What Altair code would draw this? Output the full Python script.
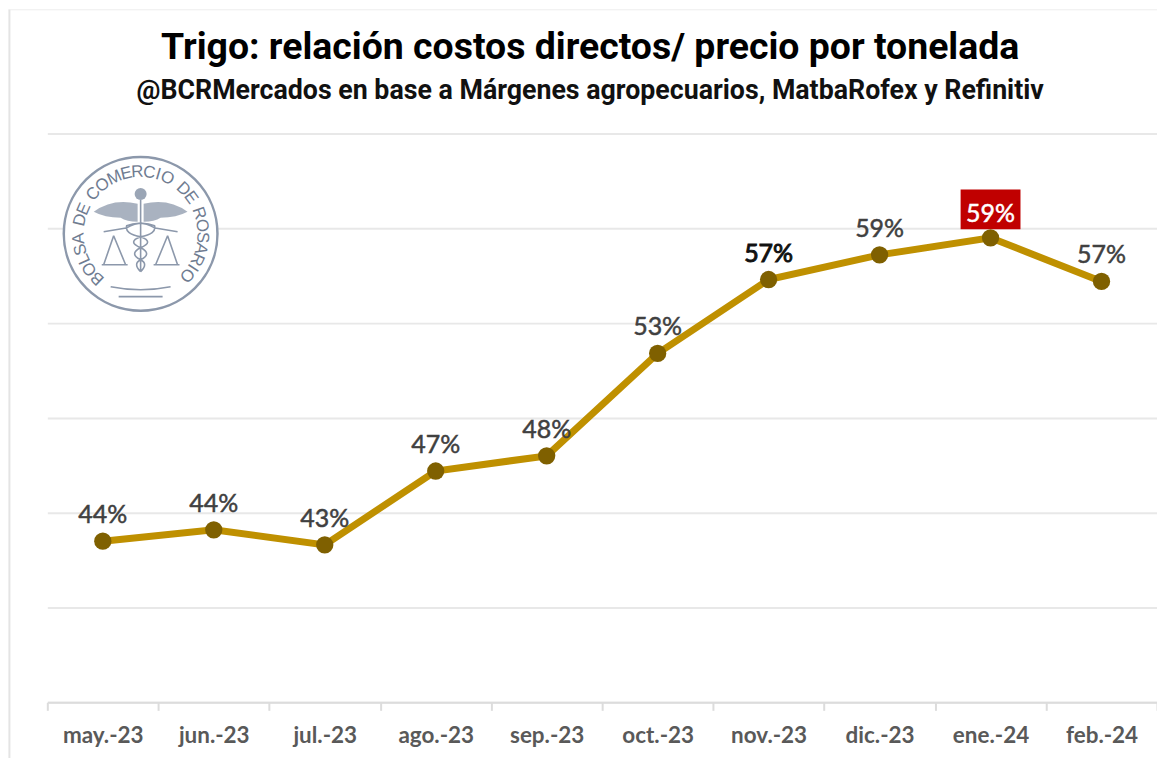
import math
import altair as alt
import pandas as pd

meses = ["may.-23", "jun.-23", "jul.-23", "ago.-23", "sep.-23", "oct.-23", "nov.-23", "dic.-23", "ene.-24", "feb.-24"]
valores = [43.5, 44.1, 43.3, 47.2, 48.0, 53.4, 57.3, 58.6, 59.5, 57.2]
etiquetas = ["44%", "44%", "43%", "47%", "48%", "53%", "57%", "59%", "59%", "57%"]
titulo = "Trigo: relación costos directos/ precio por tonelada"
subtitulo = "@BCRMercados en base a Márgenes agropecuarios, MatbaRofex y Refinitiv"
logo_texto = "BOLSA DE COMERCIO DE ROSARIO"

df = pd.DataFrame({"mes": meses, "valor": valores, "etiqueta": etiquetas})
caja = pd.DataFrame({"mes": ["ene.-24"], "y0": [59.95], "y1": [62.05]})
uno = pd.DataFrame({"a": [0]})

W, H = 1112, 570
x = alt.X("mes:N", sort=meses, title=None,
          scale=alt.Scale(type="band", paddingInner=0, paddingOuter=0, round=False),
          axis=alt.Axis(tickBand="extent", labelAngle=0, labelFont="Lato", labelFontWeight="bold",
                        labelFontSize=22.5, labelColor="#595959", labelPadding=14, tickSize=8,
                        tickColor="#DCDCDC", tickWidth=2, domainColor="#DCDCDC", domainWidth=2,
                        grid=False))
y = alt.Y("valor:Q", title=None,
          scale=alt.Scale(domain=[35, 65], nice=False, zero=False),
          axis=alt.Axis(values=[35, 40, 45, 50, 55, 60, 65], labels=False, ticks=False, domain=False,
                        grid=True, gridColor="#E8E8E8", gridWidth=2))

base = alt.Chart(df)
linea = base.mark_line(color="#BF9000", strokeWidth=7).encode(x=x, y=y)
puntos = base.mark_circle(color="#7F6000", opacity=1, size=300).encode(x=x, y=y)
recuadro = alt.Chart(caja).mark_bar(color="#C00000", size=60).encode(
    x=alt.X("mes:N", sort=meses), y=alt.Y("y0:Q"), y2="y1:Q")

def etiquetas_capa(filtro, color, dy, grosor):
    return base.transform_filter(filtro).mark_text(
        font="Lato", fontSize=25, fontWeight="normal", color=color, dy=dy,
        stroke=color, strokeWidth=grosor
    ).encode(x=x, y=y, text="etiqueta:N")

normal = etiquetas_capa("datum.mes !== 'nov.-23' && datum.mes !== 'ene.-24'", "#404040", -26, 0.5)
negrita = etiquetas_capa("datum.mes === 'nov.-23'", "#111111", -26, 1.0)
blanca = etiquetas_capa("datum.mes === 'ene.-24'", "#FFFFFF", -24, 0.5)

def texto(t, px, py, size, font="Roboto", weight="bold", color="#000000", angle=0):
    return alt.Chart(uno).mark_text(font=font, fontSize=size, fontWeight=weight, color=color,
                                    angle=angle, align="center", baseline="middle").encode(
        x=alt.value(px), y=alt.value(py), text=alt.value(t))

tit = texto(titulo, 544, -85.5, 37.5)
sub = texto(subtitulo, 544, -42.5, 26.8, color="#111111")

borde_sup = alt.Chart(uno).mark_rule(color="#EDEDED", strokeWidth=1).encode(
    x=alt.value(-39), x2=alt.value(W + 7), y=alt.value(-124))
borde_izq = alt.Chart(uno).mark_rule(color="#E4E4E4", strokeWidth=2).encode(
    x=alt.value(-38), y=alt.value(-124), y2=alt.value(H + 63))

cx, cy = 140.5 - 47, 233.5 - 133
aro = alt.Chart(uno).mark_point(shape="circle", filled=True, color="#FFFFFF", opacity=1, size=154 ** 2).encode(
    x=alt.value(cx), y=alt.value(cy))
aro2 = alt.Chart(uno).mark_point(shape="circle", filled=False, color="#8C98AB", strokeWidth=2.5, opacity=1, size=154 ** 2).encode(
    x=alt.value(cx), y=alt.value(cy))

anchos = {"I": 0.55, " ": 0.6, "M": 1.3, "O": 1.2, "C": 1.1, "D": 1.1, "R": 1.05, "B": 1.0, "E": 0.95, "L": 0.85, "S": 0.95, "A": 1.05}
pesos = [anchos[c] for c in logo_texto]
total = sum(pesos)
ini, fin, radio = -141.0, 138.0, 62.0
letras = []
acum = 0.0
for c, p in zip(logo_texto, pesos):
    a = ini + (fin - ini) * (acum + p / 2) / total
    acum += p
    if c == " ":
        continue
    rad = math.radians(a)
    letras.append(texto(c, cx + radio * math.sin(rad), cy - radio * math.cos(rad), 17,
                        font="Liberation Sans", weight="normal", color="#6F7C91", angle=(a + 360) % 360))

U = 77.0
def P(*a):
    return " ".join(f"{v / U:.3f}" if isinstance(v, (int, float)) else v for v in a)

alas = (P("M", -47, -22, "Q", -28, -36, -3, -30, "L", -3, -12, "Q", -14, -12, -20, -16, "Q", -36, -16, -47, -22, "Z")
        + " " + P("M", 47, -22, "Q", 28, -36, 3, -30, "L", 3, -12, "Q", 14, -12, 20, -16, "Q", 36, -16, 47, -22, "Z"))
trazos = " ".join([
    P("M", 0, -34, "L", 0, 38),
    P("M", -13, -6, "L", -37, -2, "M", 13, -6, "L", 37, -2),
    P("M", -27, 2, "L", -37, 31, "M", -27, 2, "L", -15, 31, "M", -39, 31, "L", -13, 31),
    P("M", 27, 2, "L", 37, 31, "M", 27, 2, "L", 15, 31, "M", 39, 31, "L", 13, 31),
    P("M", -14, -6, "Q", 0, -14, 14, -8, "Q", 16, 0, 0, 3, "Q", -14, 8, 0, 14, "Q", 12, 20, 0, 26, "Q", -8, 30, 0, 38),
    P("M", 14, -6, "Q", 0, -14, -14, -8, "Q", -16, 0, 0, 3, "Q", 14, 8, 0, 14, "Q", -12, 20, 0, 26, "Q", 8, 30, 0, 38),
    P("M", -22, 63, "L", 22, 63),
    P("M", -30, 53, "Q", 0, 59, 30, 53),
])
S = (2 * U) ** 2
relleno = alt.Chart(uno).mark_point(shape=alas, filled=True, color="#9AA5B5", opacity=0.85, size=S).encode(
    x=alt.value(cx), y=alt.value(cy))
lineas = alt.Chart(uno).mark_point(shape=trazos, filled=False, color="#8C98AB", strokeWidth=1.6, opacity=1, size=S).encode(
    x=alt.value(cx), y=alt.value(cy))
cabeza = alt.Chart(uno).mark_point(shape="circle", filled=True, color="#9AA5B5", opacity=1, size=144).encode(
    x=alt.value(cx), y=alt.value(cy - 40))

chart = alt.layer(
    borde_sup, borde_izq, linea, recuadro, puntos, normal, negrita, blanca, tit, sub,
    aro, aro2, relleno, lineas, cabeza, *letras
).properties(
    width=W, height=H,
    autosize=alt.AutoSizeParams(type="none"),
    padding={"left": 39.4, "top": 125, "right": 0, "bottom": 55},
).configure_view(stroke=None)

chart.save("out.html", embed_options={"renderer": "svg", "actions": False})
